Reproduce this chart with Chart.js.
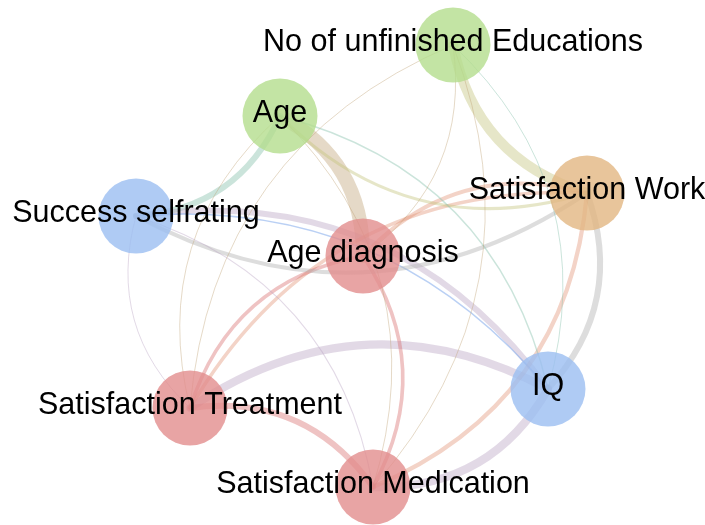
<!DOCTYPE html>
<html>
<head>
<meta charset="utf-8">
<script src="https://cdn.jsdelivr.net/npm/chart.js@4.4.1/dist/chart.umd.min.js"></script>
<style>
  html, body { margin: 0; padding: 0; background: #fff; }
  #wrap { width: 705px; height: 525px; }
</style>
</head>
<body>
<div id="wrap"><canvas id="netChart"></canvas></div>
<script>
// nodes, layout coordinates
const nodeNames = ['No of unfinished Educations', 'Age', 'Success selfrating', 'Satisfaction Work',
                   'Age diagnosis', 'IQ', 'Satisfaction Treatment', 'Satisfaction Medication'];
const nodeX = [453, 280, 136, 587, 363, 548, 190, 373];
const nodeY = [45, 116, 216, 193, 256, 389, 408, 487];
const nodeGroup = ['green', 'green', 'blue', 'orange', 'red', 'blue', 'red', 'red'];

// edges (index into nodes) and their weights
const edgeFrom   = [1, 3, 1, 2, 2, 6, 5, 3, 3, 4, 6, 6, 4, 6, 3, 3, 1, 0, 0, 0, 1, 6, 6, 6, 2];
const edgeTo     = [4, 0, 2, 5, 5, 5, 7, 5, 7, 3, 3, 4, 7, 7, 2, 1, 5, 5, 4, 7, 7, 1, 0, 2, 7];
const edgeWeight = [1.0, 0.72, 0.43, 0.43, 0.1, 0.57, 0.6, 0.43, 0.3, 0.28, 0.25, 0.25, 0.26, 0.43, 0.3, 0.22,
                    0.1, 0.07, 0.07, 0.07, 0.07, 0.07, 0.07, 0.07, 0.08];
const edgeKind   = ['tan', 'olive', 'teal', 'purple', 'blue', 'purple', 'purple', 'gray', 'orange', 'orange',
                    'orange', 'red', 'red', 'red', 'gray', 'olive', 'teal', 'teal', 'tan', 'tan', 'tan', 'tan',
                    'tan', 'purple', 'purple'];

// styles
const nodeColors = {
  green: 'rgba(180,221,141,0.8)',
  blue: 'rgba(155,190,241,0.8)',
  orange: 'rgba(226,183,130,0.8)',
  red: 'rgba(226,141,141,0.8)'
};
const edgeColors = {
  tan: 'rgba(189,161,115,0.4)',
  olive: 'rgba(195,195,125,0.42)',
  teal: 'rgba(140,195,175,0.45)',
  purple: 'rgba(185,165,195,0.42)',
  blue: 'rgba(130,170,235,0.55)',
  gray: 'rgba(180,180,180,0.45)',
  orange: 'rgba(225,145,115,0.4)',
  red: 'rgba(215,105,105,0.4)'
};
const BEND = 0.3;
const MAX_WIDTH = 14;

const points = nodeNames.map((n, i) => ({ x: nodeX[i], y: nodeY[i] }));

// curved edges, drawn under the nodes
const edgePlugin = {
  id: 'edges',
  beforeDatasetsDraw(chart) {
    const { ctx, scales: { x, y } } = chart;
    ctx.save();
    ctx.lineCap = 'round';
    edgeFrom.forEach((s, i) => {
      const t = edgeTo[i];
      const x0 = x.getPixelForValue(nodeX[s]), y0 = y.getPixelForValue(nodeY[s]);
      const x2 = x.getPixelForValue(nodeX[t]), y2 = y.getPixelForValue(nodeY[t]);
      const dx = x2 - x0, dy = y2 - y0;
      const bend = edgeKind[i] === 'blue' ? BEND - 0.04 : BEND;
      const cx = (x0 + x2) / 2 + bend * dy;
      const cy = (y0 + y2) / 2 - bend * dx;
      ctx.beginPath();
      ctx.moveTo(x0, y0);
      ctx.quadraticCurveTo(cx, cy, x2, y2);
      ctx.strokeStyle = edgeColors[edgeKind[i]];
      ctx.lineWidth = Math.max(1, edgeWeight[i] * MAX_WIDTH);
      ctx.stroke();
    });
    ctx.restore();
  }
};

// node labels on top
const labelPlugin = {
  id: 'labels',
  afterDatasetsDraw(chart) {
    const { ctx, scales: { x, y } } = chart;
    ctx.save();
    ctx.font = '30.5px "Liberation Sans", Arial, sans-serif';
    ctx.fillStyle = '#000';
    ctx.textAlign = 'center';
    ctx.textBaseline = 'middle';
    nodeNames.forEach((name, i) => {
      ctx.fillText(name, x.getPixelForValue(nodeX[i]), y.getPixelForValue(nodeY[i]) - 2);
    });
    ctx.restore();
  }
};

const ctx = document.getElementById('netChart').getContext('2d');
new Chart(ctx, {
  type: 'scatter',
  data: {
    datasets: [{
      data: points,
      pointRadius: 37.5,
      pointHoverRadius: 37.5,
      borderWidth: 0,
      clip: false,
      backgroundColor: nodeGroup.map(g => nodeColors[g])
    }]
  },
  options: {
    responsive: true,
    maintainAspectRatio: false,
    animation: false,
    layout: { padding: 0, autoPadding: false },
    scales: {
      x: { type: 'linear', min: 0, max: 705, display: false },
      y: { type: 'linear', min: 0, max: 525, reverse: true, display: false }
    },
    plugins: {
      legend: { display: false },
      tooltip: { enabled: false }
    }
  },
  plugins: [edgePlugin, labelPlugin]
});
</script>
</body>
</html>
